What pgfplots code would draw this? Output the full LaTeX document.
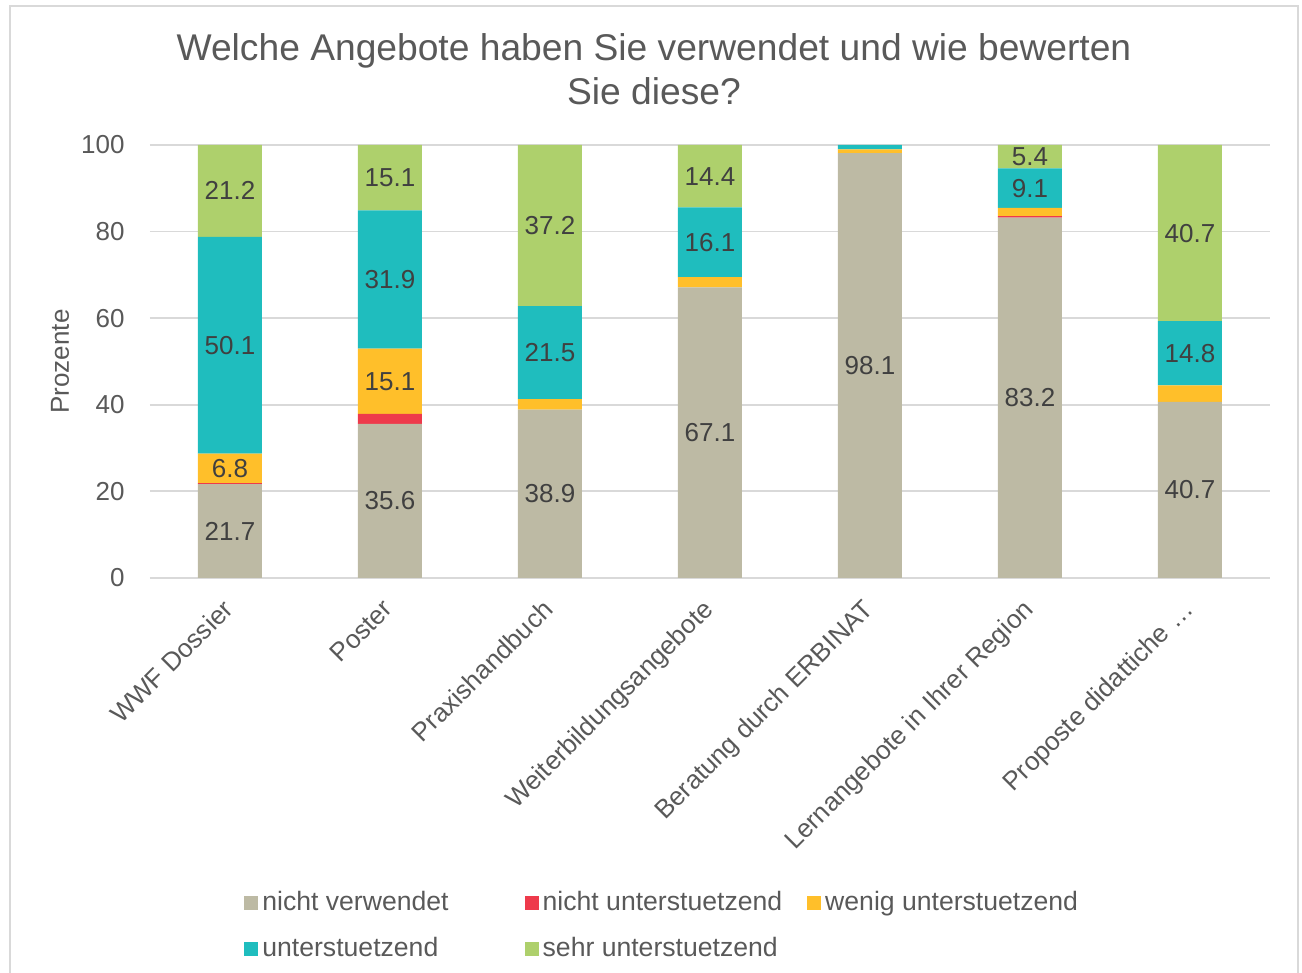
\documentclass[border=0pt]{standalone}
\usepackage{fontspec}
\setmainfont{Liberation Sans}
\usepackage{pgfplots}
\pgfplotsset{compat=1.18}
\definecolor{cNV}{HTML}{BDBAA4}
\definecolor{cNU}{HTML}{EE3A4B}
\definecolor{cWU}{HTML}{FFBF2A}
\definecolor{cU}{HTML}{1FBDBE}
\definecolor{cSU}{HTML}{AED06C}
\definecolor{cTxt}{HTML}{595959}
\definecolor{cLab}{HTML}{404040}
\definecolor{cGrid}{HTML}{D9D9D9}
\newcommand{\fs}{\fontsize{13}{15.6}\selectfont}
\newcommand{\fl}{\fontsize{13.3}{16}\selectfont}
\begin{document}
\begin{tikzpicture}[x=1pt,y=1pt]
\pgfplotsset{
  common/.style={
    scale only axis, width=560pt, height=216.5pt,
    at={(75pt,197.5pt)}, anchor=south west,
    xmin=-0.5, xmax=6.5, ymin=0, ymax=100,
  }
}
\begin{axis}[common,
  ybar stacked, bar width=32pt,
  axis line style={draw=none},
  tick style={draw=none}, major tick length=0pt,
  ymajorgrids, grid style={cGrid, line width=0.9pt},
  ytick={0,20,40,60,80,100},
  xtick={0,1,2,3,4,5,6},
  xticklabels={WWF Dossier, Poster, Praxishandbuch, Weiterbildungsangebote, Beratung durch ERBINAT, Lernangebote in Ihrer Region, Proposte didattiche \dots},
  /pgf/number format/assume math mode=true,
  ticklabel style={font=\fs, text=cTxt},
  yticklabel style={anchor=east, inner sep=0pt, xshift=-12.5pt},
  xticklabel style={rotate=45, anchor=north east, inner sep=0pt, yshift=-3.8pt, xshift=-10pt},
  ylabel={Prozente},
  every axis y label/.style={at={(axis description cs:-0.0804,0.5)}, rotate=90, anchor=center, font=\fs, text=cTxt},
  title={Welche Angebote haben Sie verwendet und wie bewerten\\Sie diese?},
  title style={at={(axis description cs:0.45,1)}, anchor=south, yshift=14pt, inner sep=0pt, align=center, font=\fontsize{18.6}{22}\selectfont, text=cTxt},
  legend columns=3,
  legend cell align=left,
  legend image code/.code={\fill[#1] (0pt,-3.5pt) rectangle (7pt,3.5pt);},
  legend style={at={(axis description cs:0.0839,-0.7229)}, anchor=north west, draw=none, fill=none, inner sep=0pt,
    font=\fl, text=cTxt,
    nodes={inner xsep=2pt, inner ysep=0pt, text height=9.5pt, text depth=2.5pt},
    row sep=11pt,
    /tikz/column 2/.style={column sep=36pt},
    /tikz/column 4/.style={column sep=10.5pt}},
]
\addplot[fill=cNV, draw=none] coordinates {(0,21.7) (1,35.6) (2,38.9) (3,67.1) (4,98.1) (5,83.2) (6,40.7)};
\addplot[fill=cNU, draw=none] coordinates {(0,0.2) (1,2.3) (2,0) (3,0) (4,0) (5,0.4) (6,0)};
\addplot[fill=cWU, draw=none] coordinates {(0,6.8) (1,15.1) (2,2.4) (3,2.4) (4,0.9) (5,1.9) (6,3.8)};
\addplot[fill=cU, draw=none] coordinates {(0,50.1) (1,31.9) (2,21.5) (3,16.1) (4,1.0) (5,9.1) (6,14.8)};
\addplot[fill=cSU, draw=none] coordinates {(0,21.2) (1,15.1) (2,37.2) (3,14.4) (4,0) (5,5.4) (6,40.7)};
\legend{nicht verwendet, nicht unterstuetzend, wenig unterstuetzend, unterstuetzend, sehr unterstuetzend}
\end{axis}
\begin{axis}[common, hide axis]
\addplot[draw=none, nodes near coords, point meta=explicit symbolic,
  every node near coord/.append style={anchor=center, font=\fs, text=cLab, inner sep=0pt}]
  table[meta=label] {
x y label
0 10.85 21.7
0 25.3 6.8
0 53.75 50.1
0 89.4 21.2
1 17.8 35.6
1 45.45 15.1
1 68.95 31.9
1 92.45 15.1
2 19.45 38.9
2 52.05 21.5
2 81.4 37.2
3 33.55 67.1
3 77.55 16.1
3 92.8 14.4
4 49.05 98.1
5 41.6 83.2
5 90.05 9.1
5 97.3 5.4
6 20.35 40.7
6 51.9 14.8
6 79.65 40.7
};
\end{axis}
\draw[cGrid, line width=1pt] (5pt,0pt) -- (5pt,483.5pt) -- (649pt,483.5pt) -- (649pt,0pt);
\pgfresetboundingbox
\useasboundingbox (0pt,0pt) rectangle (651pt,486.5pt);
\end{tikzpicture}
\end{document}
